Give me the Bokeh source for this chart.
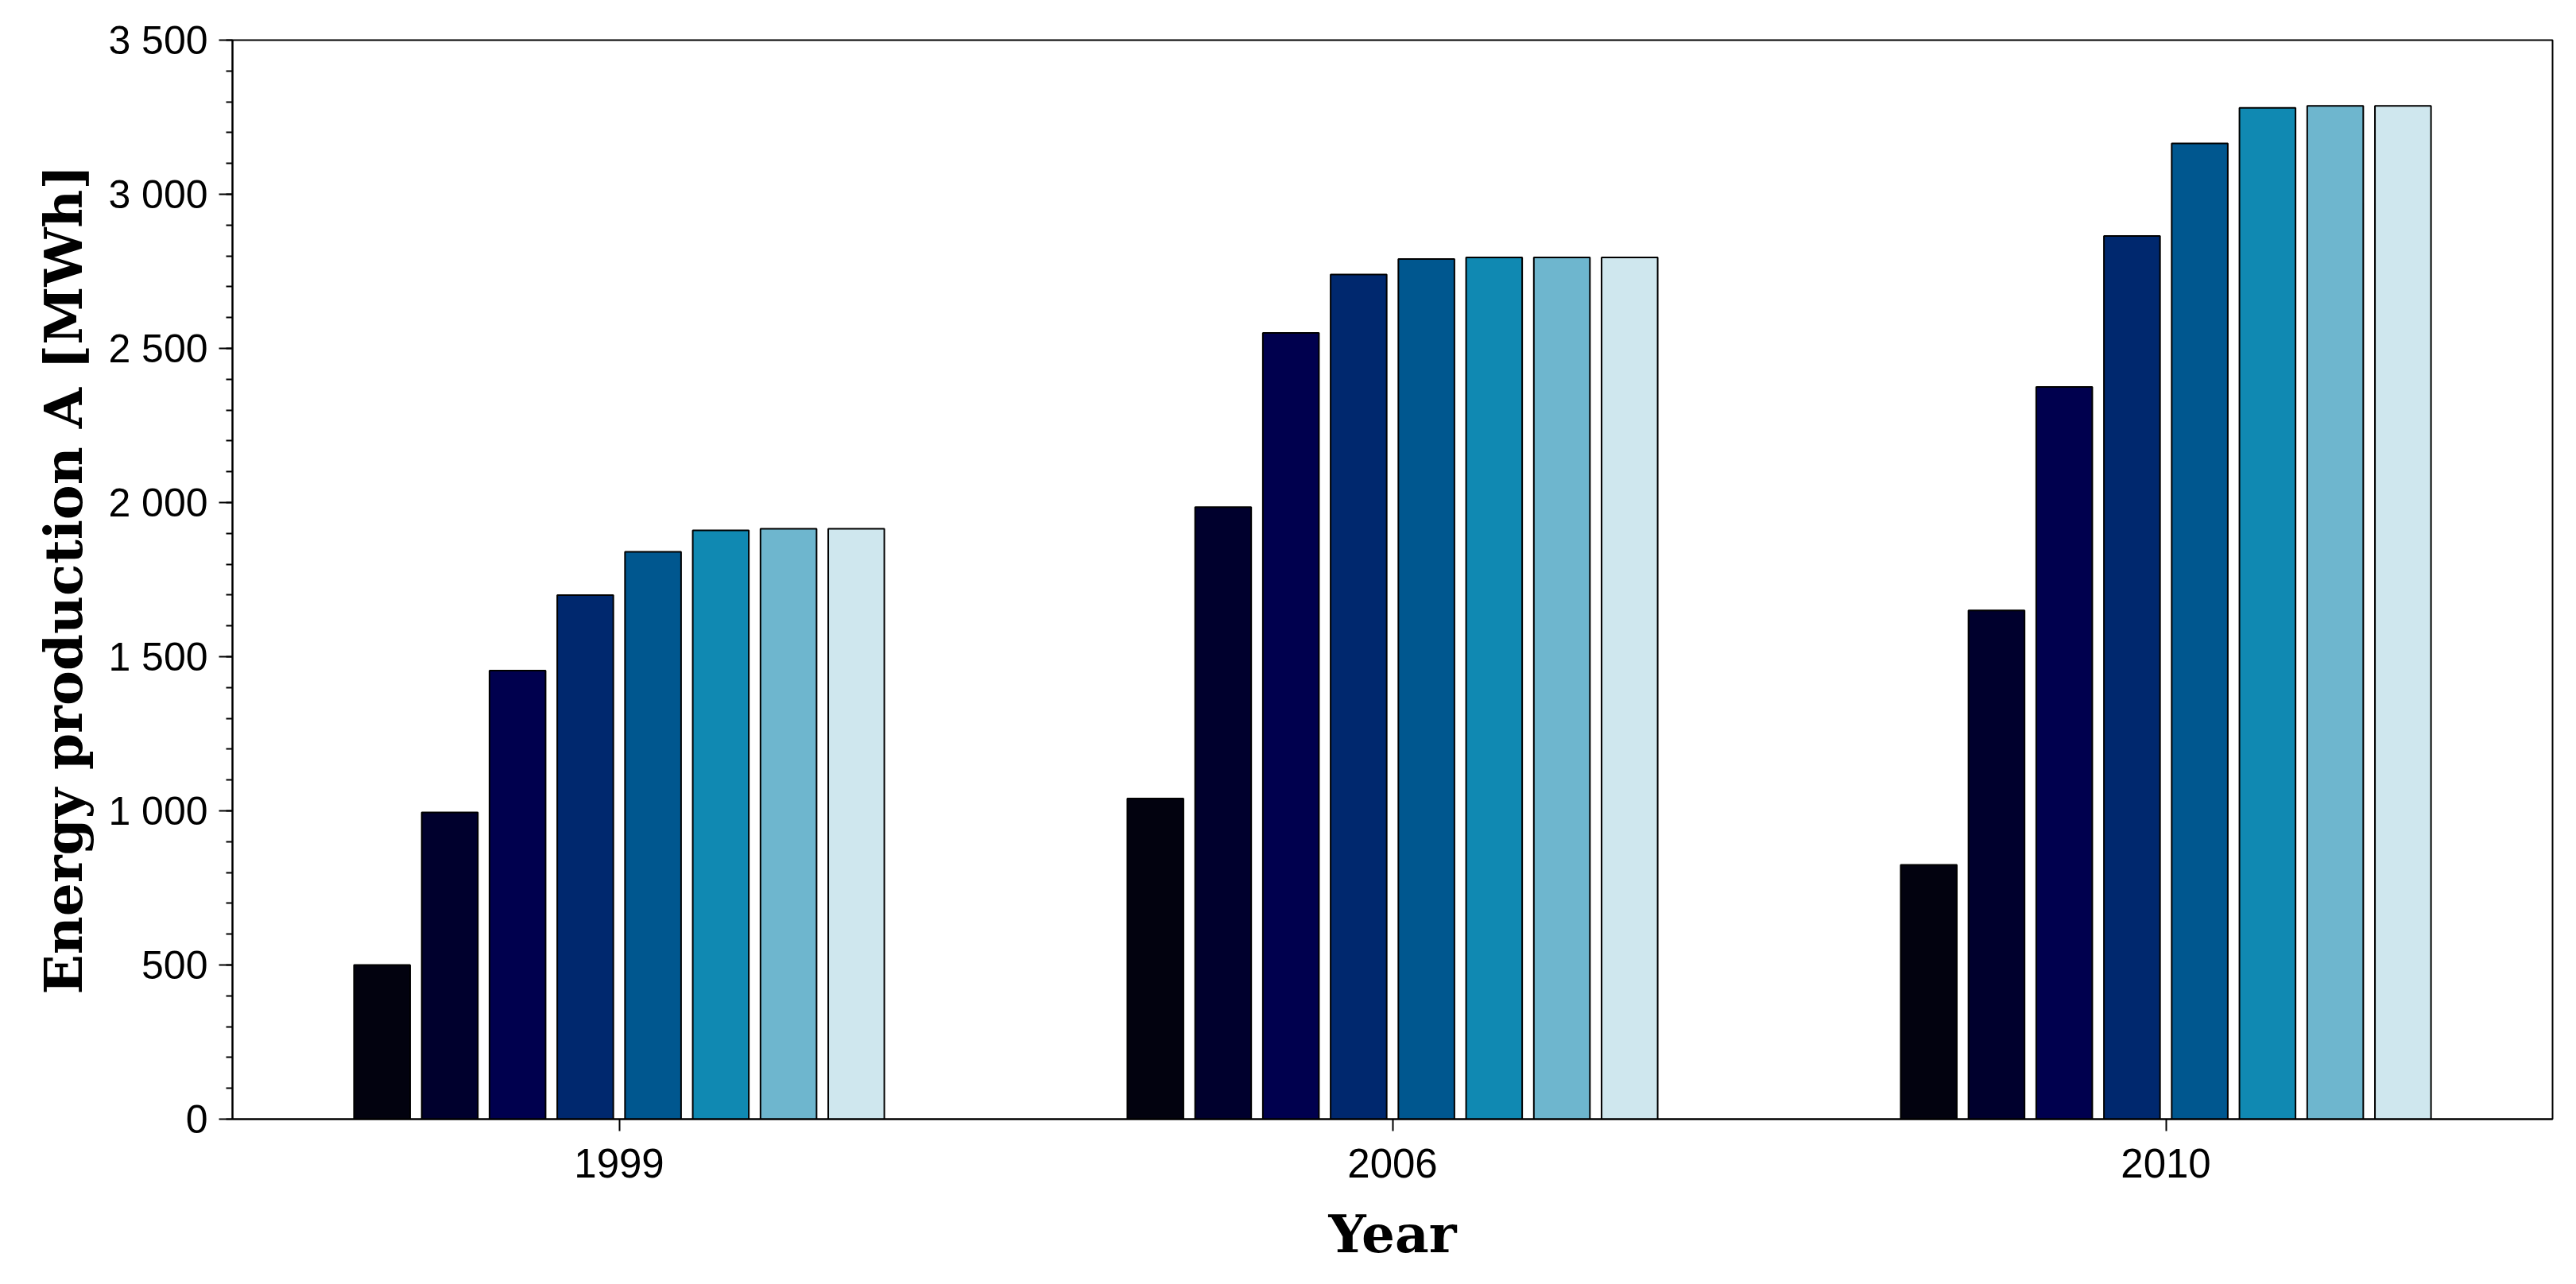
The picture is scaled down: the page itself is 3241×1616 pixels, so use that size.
from bokeh.plotting import figure
from bokeh.models import ColumnDataSource, FactorRange, Range1d, FixedTicker
from bokeh.transform import dodge
from bokeh.embed import file_html
from bokeh.resources import INLINE

years = ["1999", "2006", "2010"]
series_names = ["s1", "s2", "s3", "s4", "s5", "s6", "s7", "s8"]
s1 = [500, 1040, 825]
s2 = [995, 1985, 1650]
s3 = [1455, 2550, 2375]
s4 = [1700, 2740, 2865]
s5 = [1840, 2790, 3165]
s6 = [1910, 2795, 3280]
s7 = [1915, 2795, 3287]
s8 = [1915, 2795, 3287]
colors = ["#02020f", "#00002d", "#00004e", "#00286e", "#00578f", "#1089b2", "#6eb6ce", "#cfe7ee"]

y_ticks = [0, 500, 1000, 1500, 2000, 2500, 3000, 3500]
y_tick_labels = ["0", "500", "1 000", "1 500", "2 000", "2 500", "3 000", "3 500"]

source = ColumnDataSource(dict(year=years, s1=s1, s2=s2, s3=s3, s4=s4,
                               s5=s5, s6=s6, s7=s7, s8=s8))

p = figure(width=3225, height=1598, x_range=FactorRange(factors=years),
           y_range=Range1d(0, 3500), output_backend="svg", toolbar_location=None,
           min_border_left=292, min_border_top=50, min_border_right=14,
           min_border_bottom=190)

pitch = 0.0876
bar_w = 0.0725
for i, (name, col) in enumerate(zip(series_names, colors)):
    off = (i - 3.5) * pitch
    p.vbar(x=dodge("year", off, range=p.x_range), top=name, width=bar_w,
           bottom=0, source=source, fill_color=col, line_color="black", line_width=2)

p.xgrid.grid_line_color = None
p.ygrid.grid_line_color = None
p.outline_line_color = "black"
p.outline_line_width = 2
p.background_fill_color = "white"
p.border_fill_color = "white"

ya = p.yaxis[0]
ya.ticker = FixedTicker(ticks=y_ticks, minor_ticks=list(range(0, 3501, 100)))
ya.major_label_overrides = {t: l for t, l in zip(y_ticks, y_tick_labels)}
ya.major_tick_out = 17
ya.major_tick_in = 0
ya.minor_tick_out = 8
ya.minor_tick_in = 0
ya.major_tick_line_width = 2
ya.minor_tick_line_width = 2
ya.axis_line_width = 2
ya.major_label_text_font = "Liberation Sans"
ya.major_label_text_font_size = "50px"
ya.major_label_text_color = "black"
ya.major_label_standoff = 14
ya.axis_label = "Energy production A [MWh]"
ya.axis_label_text_font = "DejaVu Serif"
ya.axis_label_text_font_style = "bold"
ya.axis_label_text_font_size = "66px"
ya.axis_label_text_color = "black"
ya.axis_label_standoff = 14

xa = p.xaxis[0]
xa.major_tick_out = 15
xa.major_tick_in = 0
xa.minor_tick_out = 0
xa.major_tick_line_width = 2
xa.axis_line_width = 2
xa.major_label_text_font = "Liberation Sans"
xa.major_label_text_font_size = "51px"
xa.major_label_text_color = "black"
xa.major_label_standoff = 22
xa.axis_label = "Year"
xa.axis_label_text_font = "DejaVu Serif"
xa.axis_label_text_font_style = "bold"
xa.axis_label_text_font_size = "66px"
xa.axis_label_text_color = "black"
xa.axis_label_standoff = 29

open("out.html", "w").write(file_html(p, INLINE))
